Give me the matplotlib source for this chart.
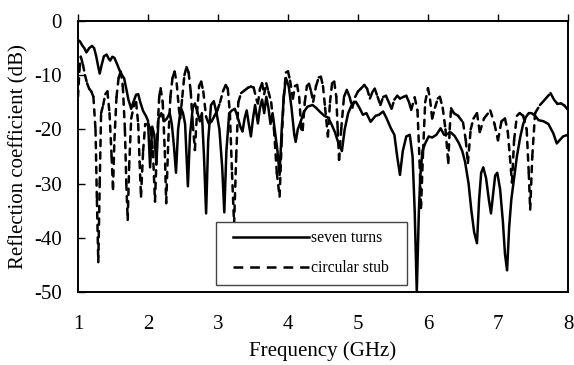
import numpy as np
import matplotlib
matplotlib.use('Agg')
import matplotlib.pyplot as plt
from matplotlib.collections import LineCollection
from matplotlib.lines import Line2D
from matplotlib.legend_handler import HandlerLine2D

# seven turns (solid)
turns_freq = [1.00, 1.03, 1.06, 1.09, 1.12, 1.16, 1.20, 1.23, 1.26, 1.29, 1.31, 1.34, 1.37, 1.41,
              1.44, 1.46, 1.49, 1.52, 1.56, 1.60, 1.63, 1.66, 1.69, 1.72, 1.76, 1.79, 1.83, 1.86,
              1.89, 1.93, 1.97, 2.00, 2.03, 2.06, 2.09, 2.12, 2.15, 2.19, 2.23, 2.27, 2.31, 2.34,
              2.37, 2.40, 2.43, 2.47, 2.50, 2.53, 2.57, 2.60, 2.64, 2.67, 2.71, 2.74, 2.77, 2.80,
              2.83, 2.86, 2.90, 2.94, 2.98, 3.02, 3.06, 3.09, 3.12, 3.16, 3.20, 3.24, 3.28, 3.32,
              3.35, 3.38, 3.41, 3.44, 3.47, 3.50, 3.53, 3.57, 3.60, 3.63, 3.66, 3.69, 3.72, 3.75,
              3.78, 3.81, 3.85, 3.88, 3.91, 3.94, 3.97, 4.01, 4.05, 4.09, 4.11, 4.14, 4.18, 4.23,
              4.28, 4.35, 4.40, 4.46, 4.52, 4.57, 4.62, 4.67, 4.72, 4.77, 4.81, 4.86, 4.92, 4.97,
              5.02, 5.07, 5.12, 5.18, 5.25, 5.30, 5.36, 5.41, 5.47, 5.52, 5.56, 5.60, 5.64, 5.69,
              5.74, 5.78, 5.81, 5.84, 5.87, 5.89, 5.92, 5.96, 6.01, 6.06, 6.12, 6.18, 6.23, 6.28,
              6.33, 6.38, 6.44, 6.49, 6.53, 6.58, 6.62, 6.66, 6.70, 6.73, 6.76, 6.79, 6.83, 6.87,
              6.90, 6.93, 6.96, 6.99, 7.03, 7.07, 7.10, 7.13, 7.16, 7.19, 7.23, 7.27, 7.32, 7.36,
              7.40, 7.44, 7.48, 7.53, 7.58, 7.65, 7.72, 7.79, 7.84, 7.88, 7.93, 8.00]
turns_db = [-3.5, -3.8, -4.5, -5.0, -5.8, -5.0, -4.6, -5.0, -6.5, -8.5, -9.7, -8.0, -6.5, -6.2,
            -7.0, -7.3, -6.6, -6.8, -8.0, -9.3, -10.0, -10.6, -12.5, -14.5, -16.2, -15.0, -13.6, -13.5,
            -15.0, -16.6, -17.5, -18.4, -27.0, -19.5, -21.0, -26.5, -18.0, -17.0, -18.5, -18.0, -17.0, -19.0,
            -23.0, -28.0, -20.0, -16.0, -17.0, -19.0, -30.5, -21.0, -16.0, -15.2, -17.0, -18.5, -17.0, -25.0,
            -35.5, -22.0, -15.5, -14.8, -17.0, -20.0, -27.0, -35.3, -24.0, -17.0, -16.5, -16.2, -17.7, -19.5,
            -20.4, -18.0, -16.5, -19.0, -21.3, -18.0, -15.5, -18.9, -16.0, -14.5, -17.0, -14.0, -16.0, -19.0,
            -17.0, -20.0, -24.0, -28.4, -20.0, -14.0, -10.5, -12.0, -16.0, -21.0, -22.3, -20.0, -18.6, -16.7,
            -15.8, -15.5, -16.0, -16.8, -17.5, -17.8, -19.0, -20.5, -22.5, -24.0, -20.0, -17.0, -15.2, -14.9,
            -16.0, -17.3, -17.0, -18.6, -17.5, -17.3, -16.7, -18.0, -19.8, -21.0, -25.0, -28.4, -24.0, -21.3,
            -21.0, -25.0, -35.0, -50.0, -35.0, -28.7, -24.0, -22.6, -21.3, -21.5, -21.0, -19.8, -21.0, -20.8,
            -20.6, -21.2, -22.5, -24.0, -26.0, -30.0, -35.0, -39.0, -41.0, -33.0, -28.0, -27.0, -29.0, -33.0,
            -35.5, -32.0, -28.5, -28.0, -31.0, -37.0, -43.0, -46.0, -38.0, -33.0, -29.0, -25.0, -21.3, -19.0,
            -17.7, -17.0, -17.0, -17.5, -18.3, -18.5, -19.0, -20.7, -22.6, -22.0, -21.3, -21.0]

# circular stub (dashed)
stub_freq = [1.00, 1.02, 1.04, 1.07, 1.10, 1.13, 1.16, 1.19, 1.22, 1.25, 1.27, 1.29, 1.31, 1.33,
             1.36, 1.39, 1.42, 1.45, 1.48, 1.50, 1.52, 1.55, 1.58, 1.61, 1.64, 1.67, 1.69, 1.71,
             1.73, 1.76, 1.80, 1.83, 1.86, 1.88, 1.90, 1.93, 1.96, 2.00, 2.04, 2.07, 2.10, 2.13,
             2.16, 2.18, 2.21, 2.24, 2.26, 2.29, 2.32, 2.35, 2.38, 2.41, 2.44, 2.46, 2.49, 2.52,
             2.55, 2.58, 2.61, 2.64, 2.67, 2.70, 2.73, 2.76, 2.79, 2.83, 2.87, 2.91, 2.95, 2.99,
             3.03, 3.07, 3.11, 3.14, 3.17, 3.20, 3.23, 3.26, 3.29, 3.33, 3.38, 3.43, 3.47, 3.51,
             3.55, 3.57, 3.60, 3.63, 3.66, 3.69, 3.72, 3.76, 3.80, 3.84, 3.88, 3.91, 3.94, 3.97,
             4.00, 4.03, 4.07, 4.10, 4.13, 4.16, 4.19, 4.21, 4.24, 4.27, 4.30, 4.33, 4.36, 4.40,
             4.44, 4.47, 4.50, 4.53, 4.57, 4.60, 4.63, 4.66, 4.69, 4.71, 4.73, 4.76, 4.80, 4.84,
             4.88, 4.92, 4.96, 5.00, 5.04, 5.09, 5.13, 5.17, 5.21, 5.24, 5.28, 5.32, 5.36, 5.40,
             5.44, 5.48, 5.52, 5.56, 5.60, 5.65, 5.69, 5.73, 5.76, 5.81, 5.85, 5.88, 5.90, 5.93,
             5.96, 6.00, 6.03, 6.06, 6.10, 6.14, 6.17, 6.21, 6.25, 6.29, 6.31, 6.33, 6.37, 6.43,
             6.50, 6.54, 6.57, 6.61, 6.65, 6.70, 6.74, 6.80, 6.89, 6.95, 7.00, 7.05, 7.10, 7.14,
             7.17, 7.20, 7.23, 7.27, 7.31, 7.36, 7.41, 7.44, 7.46, 7.49, 7.53, 7.60, 7.67, 7.75,
             7.80, 7.85, 7.90, 7.95, 8.00]
stub_db = [-14.0, -9.0, -6.6, -8.0, -10.0, -11.5, -12.5, -13.0, -14.0, -20.0, -33.0, -44.5, -30.0, -17.0,
           -15.5, -13.5, -13.0, -17.0, -25.0, -31.0, -22.0, -14.0, -10.5, -9.3, -12.0, -20.0, -30.0, -36.7,
           -27.0, -18.0, -15.5, -15.0, -19.0, -26.0, -32.4, -24.0, -19.0, -19.0, -20.0, -24.0, -33.3, -22.0,
           -14.0, -12.4, -15.0, -24.0, -33.6, -22.0, -14.0, -10.5, -9.3, -11.5, -16.0, -18.0, -14.0, -10.0,
           -8.5, -9.5, -13.0, -19.0, -23.8, -17.0, -12.0, -11.2, -13.0, -17.7, -19.0, -18.5, -17.5, -16.5,
           -15.0, -13.0, -11.8, -12.5, -17.0, -28.0, -37.5, -25.0, -15.0, -13.3, -12.8, -12.3, -12.1, -12.3,
           -14.5, -15.2, -12.5, -11.5, -13.5, -11.5, -13.0, -15.0, -20.0, -28.0, -32.4, -22.0, -14.0, -9.5,
           -9.3, -11.0, -14.3, -12.0, -11.8, -14.0, -20.0, -20.1, -15.0, -12.0, -11.6, -13.0, -14.9, -12.0,
           -10.4, -10.3, -12.0, -16.0, -21.3, -15.0, -11.5, -11.2, -14.0, -20.0, -25.6, -20.0, -14.0, -12.7,
           -14.0, -16.0, -14.0, -13.0, -12.5, -11.8, -12.5, -14.3, -13.0, -12.5, -14.0, -15.5, -14.0, -13.8,
           -15.0, -16.2, -14.5, -13.8, -14.3, -14.0, -13.8, -15.0, -16.4, -14.1, -16.5, -26.0, -34.5, -24.0,
           -15.0, -12.4, -14.5, -18.0, -16.0, -14.3, -14.0, -16.0, -20.0, -26.2, -20.0, -16.1, -17.0, -17.5,
           -18.7, -22.0, -26.2, -20.0, -18.0, -17.0, -20.5, -18.0, -16.5, -19.0, -22.0, -18.5, -18.0, -20.4,
           -25.0, -29.8, -22.0, -17.5, -17.0, -17.5, -20.0, -28.0, -34.8, -25.0, -17.0, -15.5, -14.5, -13.3,
           -14.5, -15.3, -15.2, -15.6, -16.4]

x_ticks = [1, 2, 3, 4, 5, 6, 7, 8]
y_ticks = [0, -10, -20, -30, -40, -50]


class ShiftedLine(HandlerLine2D):
    # leaves some blank room left of the legend sample line
    def create_artists(self, legend, orig_handle, xdescent, ydescent, width, height, fontsize, trans):
        shift = 6.0
        return super().create_artists(legend, orig_handle, xdescent - shift, ydescent,
                                      width - shift, height, fontsize, trans)


plt.rcParams['font.family'] = ['Liberation Serif', 'DejaVu Serif']
plt.rcParams['lines.scale_dashes'] = False

fig = plt.figure(figsize=(5.74, 3.65), dpi=100)
ax = fig.add_axes([0.1359, 0.2, 0.8536, 0.7425])

ax.plot(turns_freq, turns_db, color='black', lw=1.8, zorder=3)

# the stub curve: dash pattern restarts on every segment, so flat parts look solid
pts = np.column_stack([stub_freq, stub_db])
segs = np.stack([pts[:-1], pts[1:]], axis=1)
lc = LineCollection(segs, colors='black', linewidths=1.8, linestyles=[(0, (4.5, 4.5))],
                    capstyle='round', zorder=2)
ax.add_collection(lc)

ax.set_xlim(1, 8)
ax.set_ylim(-50, 0)
ax.set_xticks(x_ticks)
ax.set_yticks(y_ticks)
ax.set_xticklabels([str(t) for t in x_ticks])
ax.set_yticklabels([str(t) for t in y_ticks])

ax.tick_params(axis='x', top=True, bottom=False, labeltop=False, labelbottom=True,
               direction='out', length=5, width=1.0, pad=11.5, labelsize=15)
ax.tick_params(axis='y', left=True, right=False, direction='in', length=5, width=1.0,
               pad=11.5, labelsize=15)
for sp in ax.spines.values():
    sp.set_linewidth(1.4)

ax.set_xlabel('Frequency (GHz)', fontsize=15, labelpad=5)
ax.set_ylabel('Reflection coefficient (dB)', fontsize=15, labelpad=4)

handles = [Line2D([], [], color='black', lw=1.8),
           Line2D([], [], color='black', lw=1.8, ls=(0, (7, 5)))]
leg = ax.legend(handles, ['seven turns', 'circular stub'], loc='lower left',
                bbox_to_anchor=(0.281, 0.026, 0.39, 0.237), mode='expand',
                fontsize=11.3, handlelength=5.4, handletextpad=0.15, labelspacing=0.9,
                borderpad=0.55, frameon=True, fancybox=False, framealpha=1.0,
                borderaxespad=0, handler_map={Line2D: ShiftedLine()})
leg.get_frame().set_edgecolor('#444444')
leg.get_frame().set_linewidth(1.0)

fig.savefig('out.png', dpi=100)
